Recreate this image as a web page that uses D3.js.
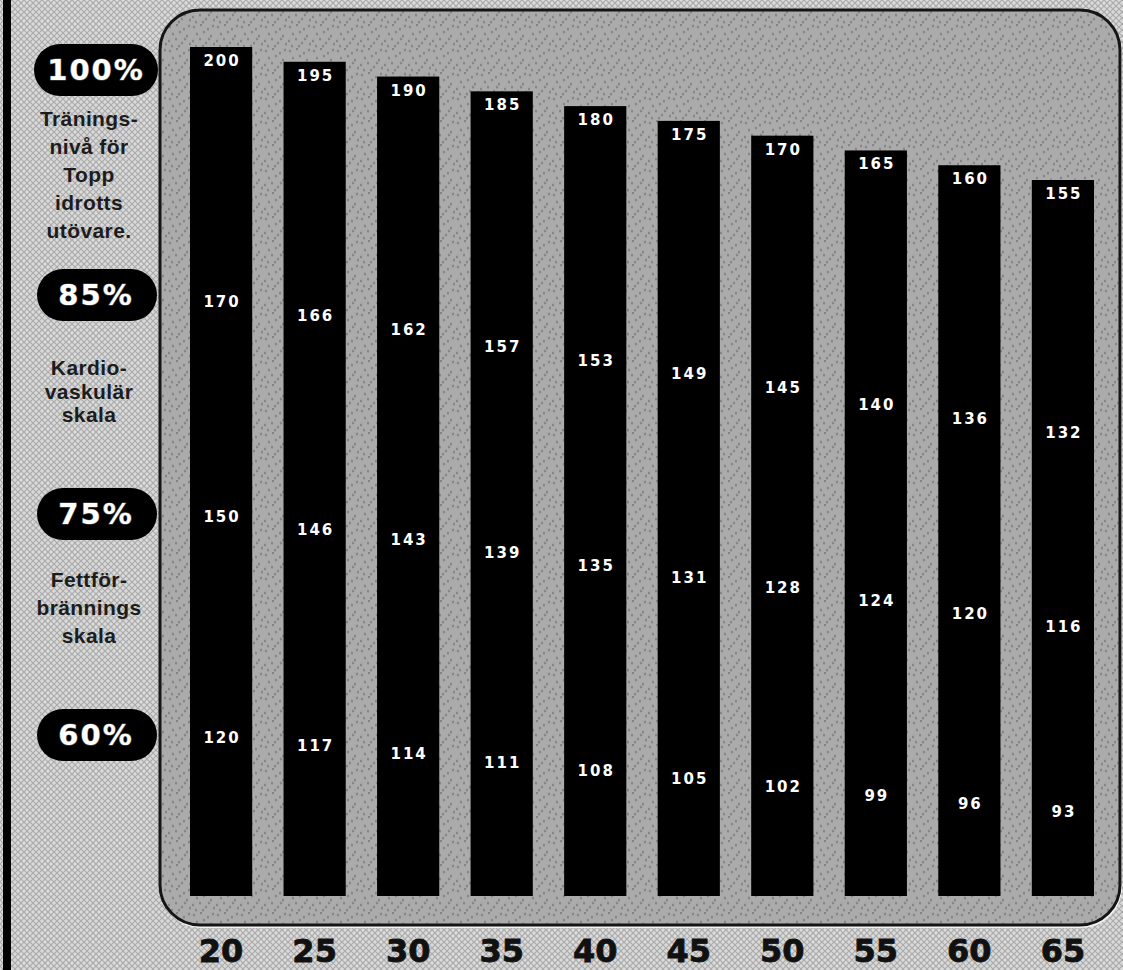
<!DOCTYPE html>
<html>
<head>
  <meta charset="utf-8">
  <title>Pulszoner per ålder</title>
  <script src="https://d3js.org/d3.v7.min.js"></script>
  <style>
    body { margin: 0; background: #cfcfcf; }
    svg { display: block; }
    .side-text { font: bold 21px "Liberation Sans", Arial, sans-serif; fill: #1c1c1c; letter-spacing: 0.4px; }
    .pill-text { font: bold 29px "DejaVu Sans", sans-serif; fill: #fff; letter-spacing: 2px;
                 stroke: #555; stroke-width: 1.2px; paint-order: stroke; }
    .val { font: bold 15px "DejaVu Sans", sans-serif; fill: #fff; letter-spacing: 2px; }
    .age { font: bold 32px "DejaVu Sans", sans-serif; fill: #111; stroke: #111; stroke-width: 0.8px; }
  </style>
</head>
<body>
  <svg width="1123" height="970"></svg>
  <script>
    // data
    const ages = [20, 25, 30, 35, 40, 45, 50, 55, 60, 65];
    const hr100 = [200, 195, 190, 185, 180, 175, 170, 165, 160, 155];
    const hr85 = [170, 166, 162, 157, 153, 149, 145, 140, 136, 132];
    const hr75 = [150, 146, 143, 139, 135, 131, 128, 124, 120, 116];
    const hr60 = [120, 117, 114, 111, 108, 105, 102, 99, 96, 93];
    const pctLabels = ["100%", "85%", "75%", "60%"];
    const sideTexts = [
      ["Tränings-", "nivå för", "Topp", "idrotts", "utövare."],
      ["Kardio-", "vaskulär", "skala"],
      ["Fettför-", "brännings", "skala"]
    ];

    const svg = d3.select("svg"),
          width = +svg.attr("width"),
          height = +svg.attr("height");

    // textures
    const defs = svg.append("defs");
    const bgPat = defs.append("pattern").attr("id", "hatch")
      .attr("width", 6).attr("height", 6).attr("patternUnits", "userSpaceOnUse");
    bgPat.append("rect").attr("width", 6).attr("height", 6).attr("fill", "#dadada");
    bgPat.append("path").attr("d", "M0,0L6,6M6,0L0,6").attr("stroke", "#ababab").attr("stroke-width", 1.2);

    const dotPat = defs.append("pattern").attr("id", "dots")
      .attr("width", 24).attr("height", 24).attr("patternUnits", "userSpaceOnUse");
    dotPat.append("rect").attr("width", 24).attr("height", 24).attr("fill", "#ababab");
    [[2,3],[9,1],[16,5],[21,2],[5,10],[12,8],[19,12],[1,17],[8,15],[14,19],[22,20],[4,22],[11,22],[17,15]]
      .forEach(p => dotPat.append("ellipse").attr("cx", p[0]).attr("cy", p[1])
        .attr("rx", 1.1).attr("ry", 1.5).attr("fill", "#858585"));

    svg.append("rect").attr("width", width).attr("height", height).attr("fill", "url(#hatch)");
    svg.append("rect").attr("x", 3).attr("y", 0).attr("width", 8).attr("height", height).attr("fill", "#000");

    // panel
    const panel = { x: 160, y: 10, w: 960, h: 915 };
    svg.append("rect")
      .attr("x", panel.x + 1).attr("y", panel.y + 2).attr("width", panel.w).attr("height", panel.h)
      .attr("rx", 40).attr("fill", "none").attr("stroke", "#f4f4f4").attr("stroke-width", 2);
    svg.append("rect")
      .attr("x", panel.x).attr("y", panel.y).attr("width", panel.w).attr("height", panel.h)
      .attr("rx", 40).attr("fill", "url(#dots)").attr("stroke", "#151515").attr("stroke-width", 3);

    // scales
    const x = d3.scaleBand().domain(ages).range([190, 1094]).paddingInner(0.335).paddingOuter(0);
    const baseY = 896;
    const yTop = d3.scaleLinear().domain([155, 200]).range([180, 47]);

    // per-zone label rows (the original drifts each row downwards with age)
    const rows = [
      { vals: hr100, y: d3.scaleLinear().domain([hr100[0], hr100[9]]).range([61, 194]) },
      { vals: hr85, y: d3.scaleLinear().domain([hr85[0], hr85[9]]).range([302, 433]) },
      { vals: hr75, y: d3.scaleLinear().domain([hr75[0], hr75[9]]).range([517, 627]) },
      { vals: hr60, y: d3.scaleLinear().domain([hr60[0], hr60[9]]).range([738, 812]) }
    ];

    // bars
    svg.append("g").selectAll("rect")
      .data(ages)
      .join("rect")
      .attr("x", d => x(d))
      .attr("y", (d, i) => yTop(hr100[i]))
      .attr("width", x.bandwidth())
      .attr("height", (d, i) => baseY - yTop(hr100[i]))
      .attr("fill", "#000");

    // value labels inside bars
    rows.forEach(row => {
      svg.append("g").selectAll("text")
        .data(row.vals)
        .join("text")
        .attr("class", "val")
        .attr("x", (d, i) => x(ages[i]) + x.bandwidth() / 2 + 1)
        .attr("y", d => row.y(d))
        .attr("text-anchor", "middle")
        .attr("dominant-baseline", "central")
        .text(d => d);
    });

    // x axis labels
    svg.append("g").selectAll("text")
      .data(ages)
      .join("text")
      .attr("class", "age")
      .attr("x", d => x(d) + x.bandwidth() / 2)
      .attr("y", 962)
      .attr("text-anchor", "middle")
      .text(d => d);

    // percent pills on the left
    const pillY = [70, 295, 514, 735];
    const pills = svg.append("g").selectAll("g")
      .data(pctLabels)
      .join("g")
      .attr("transform", (d, i) => `translate(96,${pillY[i]})`);
    pills.append("rect")
      .attr("x", (d, i) => i === 0 ? -62 : -59).attr("y", -26)
      .attr("width", (d, i) => i === 0 ? 124 : 120).attr("height", 52)
      .attr("rx", 26).attr("fill", "#000");
    pills.append("text")
      .attr("class", "pill-text")
      .attr("text-anchor", "middle")
      .attr("y", 10)
      .text(d => d);

    // zone descriptions
    const blockTop = [126, 375, 587];
    const lineGap = [28, 23.5, 28];
    sideTexts.forEach((lines, b) => {
      svg.append("g").selectAll("text")
        .data(lines)
        .join("text")
        .attr("class", "side-text")
        .attr("x", 89)
        .attr("y", (d, i) => blockTop[b] + i * lineGap[b])
        .attr("text-anchor", "middle")
        .text(d => d);
    });
  </script>
</body>
</html>
